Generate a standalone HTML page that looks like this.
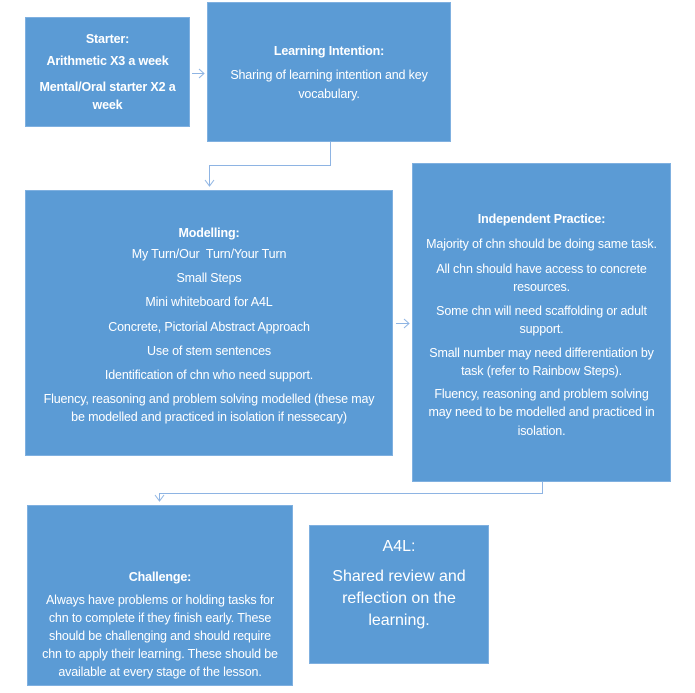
<!DOCTYPE html>
<html><head><meta charset="utf-8"><style>
body{margin:0;width:695px;height:693px;background:#fff;position:relative;overflow:hidden;font-family:"Liberation Sans",sans-serif;}
.b{position:absolute;background:#5b9bd5;border:1px solid #7fb0e0;box-sizing:border-box;}
.t{position:absolute;left:0;right:0;text-align:center;color:#fff;font-size:12.5px;letter-spacing:-0.15px;line-height:18px;white-space:nowrap;}
.h{font-weight:bold;}
.L{font-size:16px;letter-spacing:0px;line-height:22px;}
</style></head><body>
<svg width="695" height="693" style="position:absolute;left:0;top:0">
<g stroke="#8eb4e3" stroke-width="1" fill="none">
<path d="M330.5 142 V165.5 H209.5 V186"/>
<path d="M205 180 L209.5 186 L214 180"/>
<path d="M542.5 482 V493.5 H159.5 V500"/>
<path d="M155 495 L159.5 501 L164 495"/>
<path d="M192 73.5 H204 M199 69 L204 73.5 L199 78"/>
<path d="M396 323.5 H409 M404 319 L409 323.5 L404 328"/>
</g></svg>
<div class="b" style="left:25px;top:17px;width:165px;height:110px">
<div class="t h" style="top:12px">Starter:</div>
<div class="t h" style="top:34px">Arithmetic X3 a week</div>
<div class="t h" style="top:60px">Mental/Oral starter X2 a</div>
<div class="t h" style="top:78px">week</div>
</div>
<div class="b" style="left:207px;top:2px;width:244px;height:140px">
<div class="t h" style="top:39px">Learning Intention:</div>
<div class="t" style="top:63px">Sharing of learning intention and key</div>
<div class="t" style="top:82px">vocabulary.</div>
</div>
<div class="b" style="left:25px;top:190px;width:368px;height:266px">
<div class="t h" style="top:33px">Modelling:</div>
<div class="t" style="top:54px">My Turn/Our&nbsp; Turn/Your Turn</div>
<div class="t" style="top:78px">Small Steps</div>
<div class="t" style="top:102px">Mini whiteboard for A4L</div>
<div class="t" style="top:127px">Concrete, Pictorial Abstract Approach</div>
<div class="t" style="top:151px">Use of stem sentences</div>
<div class="t" style="top:175px">Identification of chn who need support.</div>
<div class="t" style="top:199px">Fluency, reasoning and problem solving modelled (these may</div>
<div class="t" style="top:217px">be modelled and practiced in isolation if nessecary)</div>
</div>
<div class="b" style="left:412px;top:163px;width:259px;height:319px">
<div class="t h" style="top:46px">Independent Practice:</div>
<div class="t" style="top:71px">Majority of chn should be doing same task.</div>
<div class="t" style="top:96px">All chn should have access to concrete</div>
<div class="t" style="top:114px">resources.</div>
<div class="t" style="top:138px">Some chn will need scaffolding or adult</div>
<div class="t" style="top:156px">support.</div>
<div class="t" style="top:180px">Small number may need differentiation by</div>
<div class="t" style="top:198px">task (refer to Rainbow Steps).</div>
<div class="t" style="top:221px">Fluency, reasoning and problem solving</div>
<div class="t" style="top:239px">may need to be modelled and practiced in</div>
<div class="t" style="top:258px">isolation.</div>
</div>
<div class="b" style="left:27px;top:505px;width:266px;height:181px">
<div class="t h" style="top:62px">Challenge:</div>
<div class="t" style="top:85px">Always have problems or holding tasks for</div>
<div class="t" style="top:103px">chn to complete if they finish early. These</div>
<div class="t" style="top:121px">should be challenging and should require</div>
<div class="t" style="top:139px">chn to apply their learning. These should be</div>
<div class="t" style="top:157px">available at every stage of the lesson.</div>
</div>
<div class="b" style="left:309px;top:525px;width:180px;height:139px">
<div class="t L" style="top:10px">A4L:</div>
<div class="t L" style="top:40px">Shared review and</div>
<div class="t L" style="top:62px">reflection on the</div>
<div class="t L" style="top:84px">learning.</div>
</div>
</body></html>
